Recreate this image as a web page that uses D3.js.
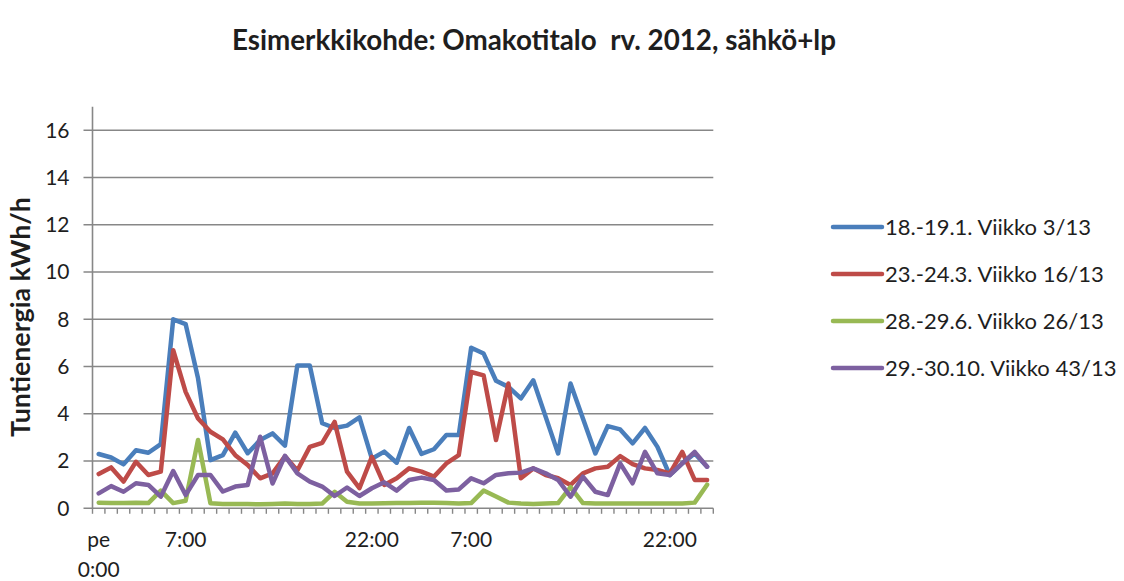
<!DOCTYPE html>
<html>
<head>
<meta charset="utf-8">
<script src="https://cdn.jsdelivr.net/npm/d3@7"></script>
<style>
  html, body { margin: 0; padding: 0; background: #fff; }
  svg { display: block; }
  text { font-family: Lato, "Open Sans", sans-serif; fill: #1e1e1e; }
</style>
</head>
<body>
<svg id="chart" width="1124" height="581"></svg>
<script>
// Hourly energy use (kWh/h) over two days, one series per sample week
const seriesNames = [
  "18.-19.1. Viikko 3/13",
  "23.-24.3. Viikko 16/13",
  "28.-29.6. Viikko 26/13",
  "29.-30.10. Viikko 43/13"
];
const seriesColors = ["#4a7ebb", "#be4b48", "#98b954", "#7d60a0"];

const week3 = [2.3, 2.15, 1.86, 2.46, 2.35, 2.72, 8.0, 7.8, 5.5, 2.04,
  2.25, 3.2, 2.33, 2.89, 3.17, 2.65, 6.05, 6.05, 3.6, 3.4,
  3.5, 3.85, 2.1, 2.4, 1.93, 3.4, 2.3, 2.5, 3.1, 3.1,
  6.8, 6.55, 5.4, 5.14, 4.65, 5.42, 3.87, 2.32, 5.28, 3.8,
  2.32, 3.48, 3.34, 2.75, 3.4, 2.6, 1.4, 1.9, 2.32, 1.76];
const week16 = [1.45, 1.73, 1.13, 1.97, 1.41, 1.55, 6.69, 4.93, 3.8, 3.24,
  2.92, 2.25, 1.83, 1.27, 1.48, 2.2, 1.6, 2.6, 2.77, 3.66,
  1.55, 0.85, 2.18, 0.99, 1.27, 1.69, 1.55, 1.34, 1.9, 2.25,
  5.77, 5.63, 2.89, 5.28, 1.27, 1.69, 1.41, 1.27, 0.99, 1.48,
  1.69, 1.76, 2.21, 1.87, 1.69, 1.62, 1.48, 2.39, 1.2, 1.2];
const week26 = [0.24, 0.22, 0.22, 0.24, 0.22, 0.75, 0.22, 0.32, 2.89, 0.21,
  0.18, 0.18, 0.18, 0.17, 0.18, 0.2, 0.18, 0.18, 0.2, 0.7,
  0.28, 0.2, 0.2, 0.21, 0.22, 0.22, 0.24, 0.24, 0.22, 0.2,
  0.22, 0.75, 0.5, 0.24, 0.2, 0.18, 0.2, 0.22, 0.9, 0.22,
  0.2, 0.2, 0.2, 0.2, 0.2, 0.2, 0.2, 0.2, 0.24, 1.0];
const week43 = [0.63, 0.94, 0.7, 1.06, 0.99, 0.49, 1.58, 0.56, 1.41, 1.41,
  0.71, 0.92, 0.99, 3.03, 1.05, 2.22, 1.48, 1.13, 0.92, 0.52,
  0.88, 0.52, 0.85, 1.1, 0.75, 1.2, 1.3, 1.2, 0.75, 0.8,
  1.27, 1.06, 1.41, 1.48, 1.51, 1.69, 1.48, 1.2, 0.49, 1.34,
  0.7, 0.56, 1.9, 1.06, 2.39, 1.48, 1.41, 1.9, 2.39, 1.76];

// Category labels shown under the axis (index -> text lines)
const xLabelIndex = [0, 7, 22, 30, 46];
const xLabelText = [["pe", "0:00"], ["7:00"], ["22:00"], ["7:00"], ["22:00"]];
const yTickValues = [0, 2, 4, 6, 8, 10, 12, 14, 16];

const titleText = "Esimerkkikohde: Omakotitalo\u00a0 rv. 2012, sähkö+lp";
const yTitle = "Tuntienergia kWh/h";

const allSeries = [week3, week16, week26, week43];
const nCat = week3.length;

const svg = d3.select("#chart");

const plot = { left: 92.5, right: 713.3, top: 106.7, bottom: 508.3 };

const x = d3.scaleBand().domain(d3.range(nCat)).range([plot.left, plot.right]).padding(0);
const xc = i => x(i) + x.bandwidth() / 2;
const y = d3.scaleLinear().domain([0, 17]).range([plot.bottom, plot.top]);

const gridColor = "#878787";

// horizontal gridlines, with short tick stubs left of the axis
svg.append("g").selectAll("line").data(yTickValues).join("line")
  .attr("x1", plot.left - 9).attr("x2", plot.right)
  .attr("y1", d => y(d)).attr("y2", d => y(d))
  .attr("stroke", gridColor).attr("stroke-width", 1.6);

// vertical axis line
svg.append("line")
  .attr("x1", plot.left).attr("x2", plot.left)
  .attr("y1", y(17)).attr("y2", y(0))
  .attr("stroke", gridColor).attr("stroke-width", 1.6);

// category tick marks between categories
const tickPos = d3.range(nCat).map(i => x(i)).concat([plot.right]);
svg.append("g").selectAll("line").data(tickPos).join("line")
  .attr("x1", d => d).attr("x2", d => d)
  .attr("y1", y(0)).attr("y2", y(0) + 5.5)
  .attr("stroke", gridColor).attr("stroke-width", 1.4);

// y tick labels
svg.append("g").selectAll("text").data(yTickValues).join("text")
  .attr("x", plot.left - 23).attr("y", d => y(d))
  .attr("dy", "0.35em").attr("text-anchor", "end")
  .style("font-size", "21px")
  .text(d => d);

// x category labels
const xl = svg.append("g").selectAll("text").data(xLabelIndex).join("text")
  .attr("x", d => xc(d)).attr("y", 547)
  .attr("text-anchor", "middle")
  .style("font-size", "21px");
xl.each(function(d, k) {
  const t = d3.select(this);
  xLabelText[k].forEach((line, j) => {
    t.append("tspan").attr("x", xc(d)).attr("dy", j === 0 ? 0 : 30).text(line);
  });
});

// series lines
const line = d3.line().x((d, i) => xc(i)).y(d => y(d));
svg.append("g").selectAll("path").data(allSeries).join("path")
  .attr("d", d => line(d))
  .attr("fill", "none")
  .attr("stroke", (d, i) => seriesColors[i])
  .attr("stroke-width", 4.5)
  .attr("stroke-linejoin", "round")
  .attr("stroke-linecap", "round");

// scale a text node's font so it spans a given length
function fitText(sel, base, target) {
  sel.style("font-size", base + "px");
  const w = sel.node().getComputedTextLength();
  sel.style("font-size", (base * target / w) + "px");
}

// title
const title = svg.append("text")
  .attr("x", 534).attr("y", 50)
  .attr("text-anchor", "middle")
  .style("font-weight", "bold")
  .text(titleText);
fitText(title, 22, 604);

// y axis title
const yt = svg.append("text")
  .attr("transform", "translate(30,317) rotate(-90)")
  .attr("text-anchor", "middle")
  .style("font-weight", "bold")
  .text(yTitle);
fitText(yt, 20, 240);

// legend
const legendY = [227, 274, 321, 368];
const lg = svg.append("g").selectAll("g").data(seriesNames).join("g")
  .attr("transform", (d, i) => `translate(833,${legendY[i]})`);
lg.append("line")
  .attr("x1", 0).attr("x2", 49).attr("y1", 0).attr("y2", 0)
  .attr("stroke", (d, i) => seriesColors[i])
  .attr("stroke-width", 4.5).attr("stroke-linecap", "round");
lg.append("text")
  .attr("x", 52).attr("y", 0).attr("dy", "0.35em")
  .style("font-size", "22px")
  .text(d => d);
</script>
</body>
</html>
